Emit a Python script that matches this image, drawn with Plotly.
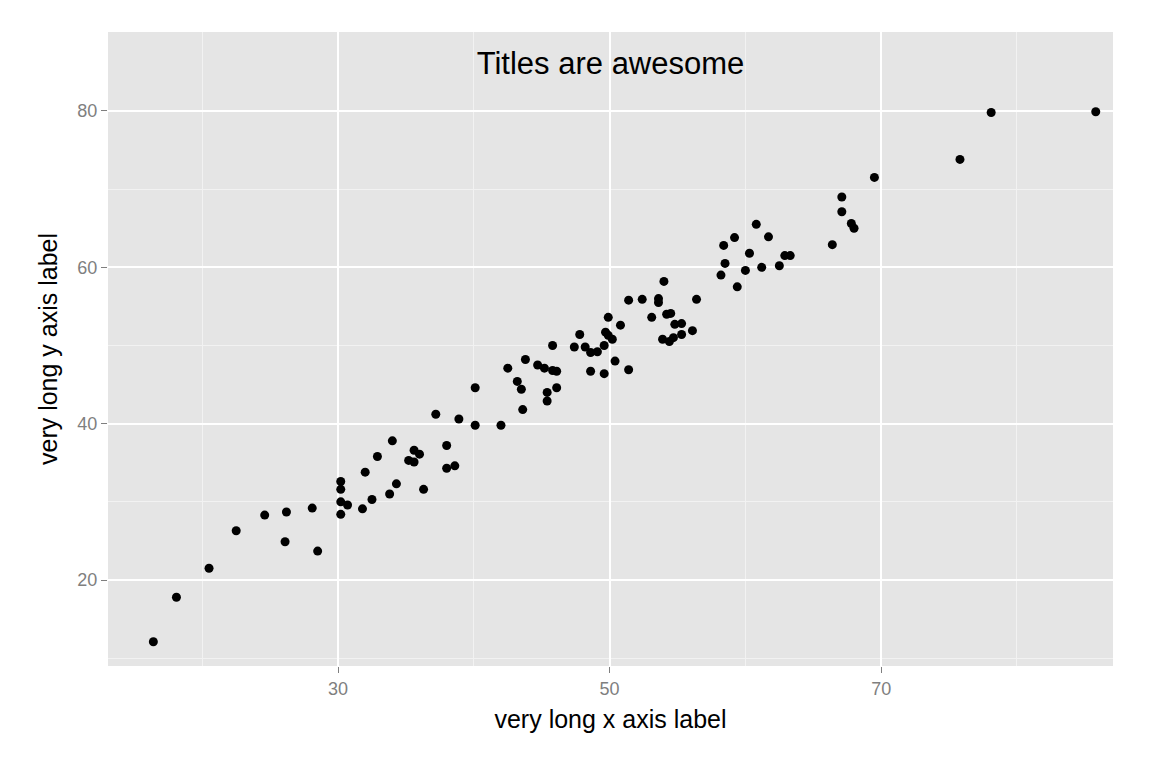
import plotly.graph_objects as go

x = [16.4,18.1,20.5,22.5,24.6,26.2,26.1,28.1,28.5,30.2,30.2,30.2,30.2,30.7,31.8,32.0,32.5,32.9,33.8,34.0,
     34.3,35.2,35.6,35.6,36.0,36.3,37.2,38.0,38.0,38.6,38.9,40.1,40.1,42.0,42.5,43.2,43.5,43.6,43.8,44.7,
     45.2,45.4,45.4,45.8,45.8,46.1,46.1,47.4,47.8,48.2,48.6,48.6,49.1,49.6,49.6,49.7,49.9,49.9,50.2,50.4,
     50.8,51.4,51.4,52.4,53.1,53.6,53.6,53.9,54.0,54.2,54.4,54.5,54.7,54.8,55.3,55.3,56.1,56.4,58.2,58.4,
     58.5,59.2,59.4,60.0,60.3,60.8,61.2,61.7,62.5,62.9,63.3,66.4,67.1,67.1,67.8,68.0,69.5,75.8,78.1,85.8]
y = [12.1,17.8,21.5,26.3,28.3,28.7,24.9,29.2,23.7,32.6,31.6,30.0,28.4,29.6,29.1,33.8,30.3,35.8,31.0,37.8,
     32.3,35.3,36.6,35.1,36.1,31.6,41.2,37.2,34.3,34.6,40.6,44.6,39.8,39.8,47.1,45.4,44.4,41.8,48.2,47.5,
     47.1,44.0,42.9,50.0,46.8,46.7,44.6,49.8,51.4,49.8,46.7,49.1,49.2,50.0,46.4,51.7,53.6,51.3,50.8,48.0,
     52.6,55.8,46.9,55.9,53.6,56.0,55.5,50.8,58.2,54.0,50.5,54.1,51.0,52.7,51.4,52.8,51.9,55.9,59.0,62.8,
     60.5,63.8,57.5,59.6,61.8,65.5,60.0,63.9,60.2,61.5,61.5,62.9,69.0,67.1,65.6,65.0,71.5,73.8,79.8,79.9]

fig = go.Figure(go.Scatter(x=x, y=y, mode="markers", marker=dict(color="black", size=9)))
font = dict(family="Liberation Sans, Arial", color="black")
fig.update_layout(
    width=1152, height=768, paper_bgcolor="white", plot_bgcolor="#E5E5E5",
    margin=dict(l=100, r=47, t=24, b=110, autoexpand=False), showlegend=False, font=font,
    title=dict(text="Titles are awesome", x=0.5, xref="paper", xanchor="center",
               y=1-55/768, yanchor="middle", font=dict(size=31, color="black")),
)
common = dict(showgrid=True, gridcolor="white", gridwidth=2, zeroline=False, showline=False,
              ticks="outside", ticklen=6, tickcolor="#7F7F7F", tickfont=dict(size=18, color="#7F7F7F"),
              title_font=dict(size=25, color="black"), automargin=False)
fig.update_xaxes(range=[13.06, 87.07], tickvals=[30, 50, 70],
                 minor=dict(tickvals=[20, 40, 60, 80], showgrid=True, gridcolor="#F2F2F2", gridwidth=1, ticks=""),
                 title_text="very long x axis label", title_standoff=12, **common)
fig.update_yaxes(range=[9.0, 90.1], tickvals=[20, 40, 60, 80],
                 minor=dict(tickvals=[10, 30, 50, 70, 90], showgrid=True, gridcolor="#F2F2F2", gridwidth=1, ticks=""),
                 title_text="very long y axis label", title_standoff=12, **common)
fig.write_html("out.html")
